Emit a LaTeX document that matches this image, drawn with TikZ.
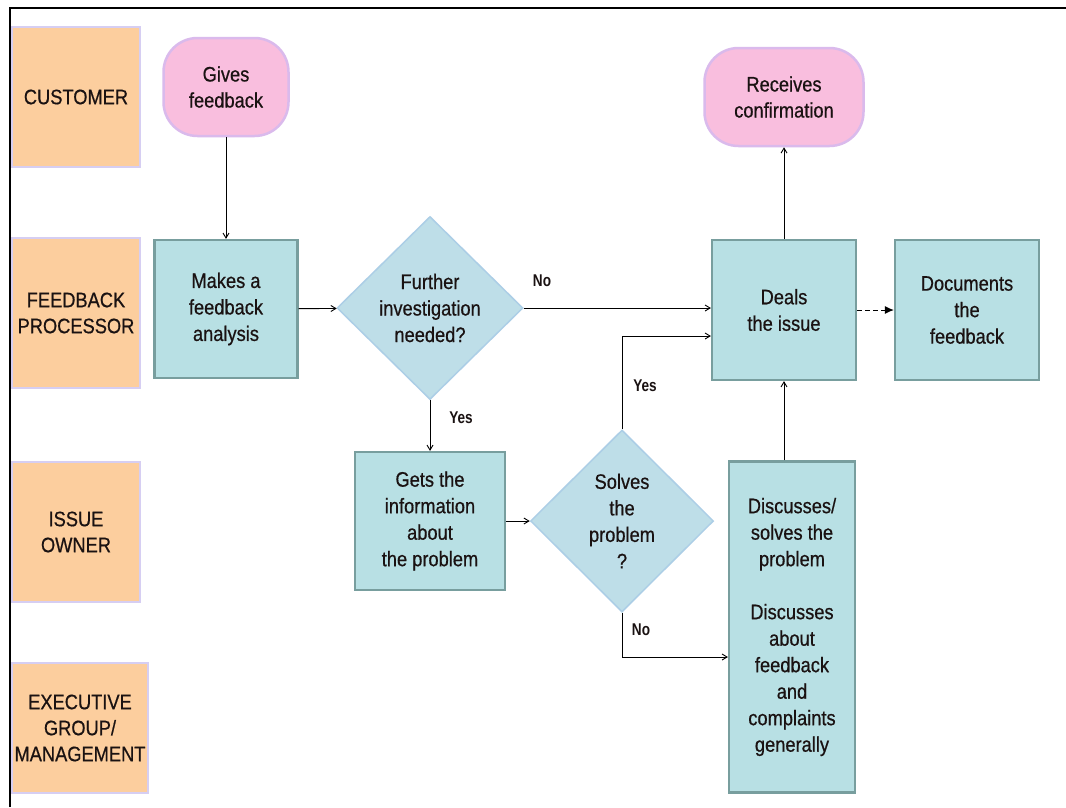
\documentclass[tikz,border=0pt]{standalone}
\usepackage{fontspec}
\setmainfont{Liberation Sans}[FakeStretch=0.87, FakeBold=0.6]
\newfontfamily\labelfont{Liberation Sans}[FakeStretch=0.8]
\usetikzlibrary{shapes.geometric,arrows.meta}

\definecolor{lanefill}{RGB}{252,206,158}
\definecolor{laneline}{RGB}{214,206,242}
\definecolor{termfill}{RGB}{249,190,222}
\definecolor{termline}{RGB}{218,186,236}
\definecolor{procfill}{RGB}{184,224,228}
\definecolor{procline}{RGB}{120,158,158}
\definecolor{decfill}{RGB}{190,222,232}
\definecolor{decline}{RGB}{172,206,230}
\definecolor{ink}{RGB}{26,18,18}

\tikzset{
  lanebox/.style={rectangle, fill=lanefill, draw=laneline, line width=2.5pt,
    align=center, text=ink, font=\fontsize{21}{26}\selectfont, inner sep=0pt},
  termbox/.style={rectangle, rounded corners=34pt, fill=termfill, draw=termline,
    line width=2.5pt, align=center, text=ink, font=\fontsize{21}{26}\selectfont, inner sep=0pt},
  procbox/.style={rectangle, fill=procfill, draw=procline, line width=2.2pt,
    align=center, text=ink, font=\fontsize{21}{26.5}\selectfont, inner sep=0pt},
  decbox/.style={diamond, aspect=1, fill=decfill, draw=decline, line width=1.5pt,
    align=center, text=ink, font=\fontsize{21}{26.5}\selectfont, inner sep=0pt},
  flow/.style={draw=black, line width=0.9pt, -{Straight Barb[length=5pt,width=6pt]}},
  docflow/.style={draw=black, line width=1pt, dash pattern=on 5pt off 3pt,
    -{Latex[length=9pt,width=8pt]}},
  branch/.style={text=ink, font=\labelfont\bfseries\fontsize{17}{20}\selectfont, inner sep=0pt},
}

\begin{document}
\begin{tikzpicture}[x=1pt, y=-1pt]
  \useasboundingbox (0,0) rectangle (1066,807);
  \fill[white] (0,0) rectangle (1066,807);

  % frame along the top and left edges
  \draw[line width=1.8pt, black] (10,807) -- (10,8) -- (1066,8);

  % swim-lane labels
  \node[lanebox, minimum width=128pt, minimum height=140pt] (lcust) at (76,97) {CUSTOMER};
  \node[lanebox, minimum width=128pt, minimum height=150pt] (lproc) at (76,313) {FEEDBACK\\PROCESSOR};
  \node[lanebox, minimum width=128pt, minimum height=140pt] (lowner) at (76,532) {ISSUE\\OWNER};
  \node[lanebox, minimum width=136pt, minimum height=130pt] (lexec) at (80,728) {EXECUTIVE\\GROUP/\\MANAGEMENT};

  % start and end
  \node[termbox, minimum width=125pt, minimum height=98pt] (gives) at (226,87) {Gives\\feedback};
  \node[termbox, minimum width=159pt, minimum height=98pt] (receives) at (784,97) {Receives\\confirmation};

  % processing steps
  \node[procbox, minimum width=143pt, minimum height=138pt] (makes) at (226,309) {Makes a\\feedback\\analysis};
  \node[procbox, minimum width=144pt, minimum height=140pt] (deals) at (784,310) {Deals\\the issue};
  \node[procbox, minimum width=144pt, minimum height=140pt] (docs) at (967,310) {Documents\\the\\feedback};
  \node[procbox, minimum width=150pt, minimum height=138pt] (gets) at (430,521) {Gets the\\information\\about\\the problem};
  \node[procbox, minimum width=126pt, minimum height=331pt] (disc) at (792,627)
    {Discusses/\\solves the\\problem\\[26.5pt]Discusses\\about\\feedback\\and\\complaints\\generally};

  % decisions
  \node[decbox, minimum width=186pt, minimum height=183pt] (further) at (430,308) {Further\\investigation\\needed?};
  \node[decbox, minimum width=183pt, minimum height=182pt] (solves) at (622,521) {Solves\\the\\problem\\?};

  % connectors
  \draw[flow] (gives) -- (makes);
  \draw[flow] (makes) -- (further);
  \draw[flow] (further.east) -- (further.east -| deals.west);
  \draw[flow] (further.south) -- (gets.north);
  \draw[flow] (gets) -- (solves);
  \draw[flow] (solves.north) |- ([yshift=-26pt]deals.west);
  \draw[flow] (solves.south) |- ([yshift=-30pt]disc.west);
  \draw[flow] (disc.north -| deals.south) -- (deals.south);
  \draw[flow] (deals) -- (receives);
  \draw[docflow] (deals) -- (docs);

  % branch labels
  \node[branch] (lblno1) at (542,281) {No};
  \node[branch] (lblyes1) at (461,418) {Yes};
  \node[branch] (lblyes2) at (645,386) {Yes};
  \node[branch] (lblno2) at (641,630) {No};
\end{tikzpicture}
\end{document}
